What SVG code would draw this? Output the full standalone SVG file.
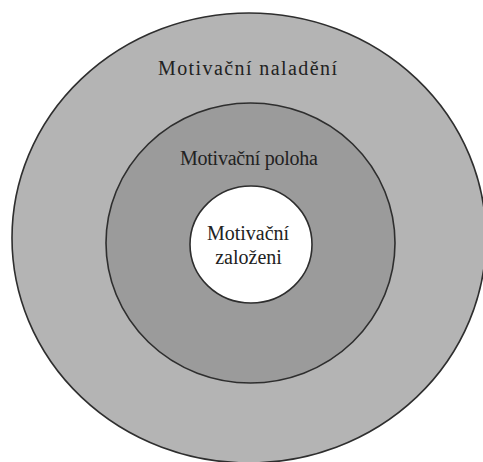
<svg xmlns="http://www.w3.org/2000/svg" width="483" height="462" viewBox="0 0 483 462">
<style>
.ring{stroke:#2e2e2e;stroke-width:1.6}
text{font-family:"Liberation Serif","Times New Roman",serif;fill:#222;text-anchor:middle;font-size:20px}
</style>
<rect width="483" height="462" fill="#ffffff"/>
<g id="outer">
<ellipse class="ring" cx="249" cy="238" rx="237" ry="225" fill="#b4b4b4"/>
<text x="247.5" y="75" textLength="179" lengthAdjust="spacing">Motivační naladění</text>
</g>
<g id="middle">
<ellipse class="ring" cx="250.5" cy="243" rx="144.5" ry="140" fill="#9b9b9b"/>
<text x="249" y="165" textLength="138" lengthAdjust="spacing">Motivační poloha</text>
</g>
<g id="inner">
<ellipse class="ring" cx="251" cy="244.5" rx="61" ry="58.5" fill="#ffffff"/>
<text x="248" y="240">Motivační</text>
<text x="248.5" y="264">založeni</text>
</g>
<g id="connectors"></g>
</svg>
